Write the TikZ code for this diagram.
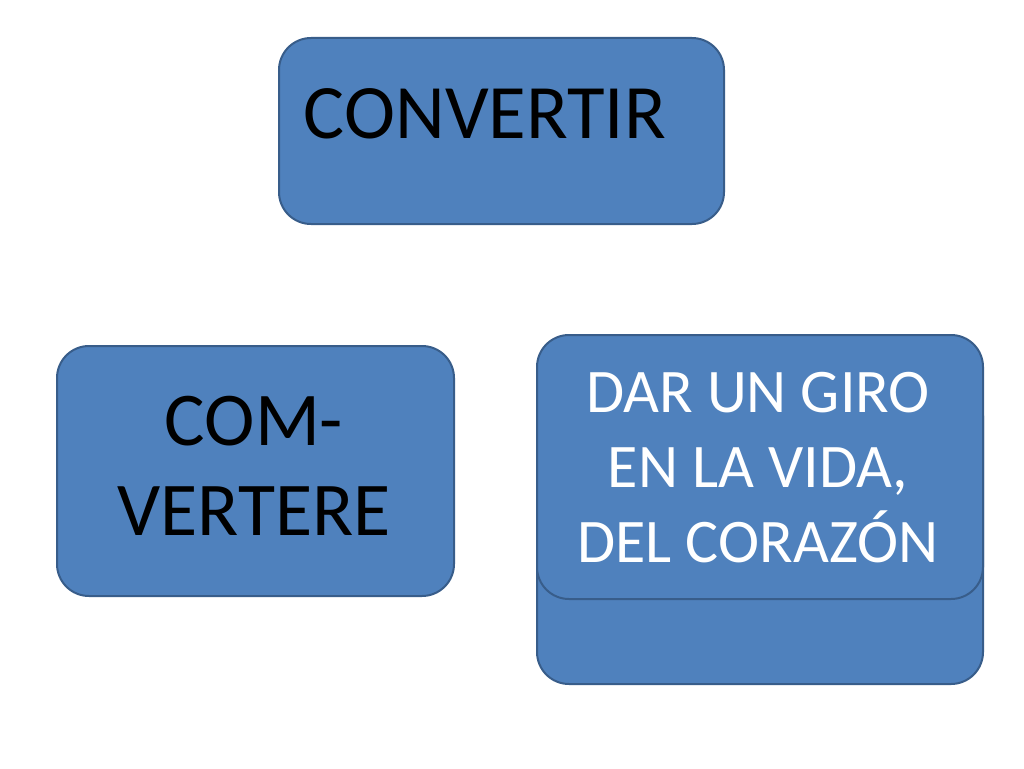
\documentclass[tikz,border=0pt]{standalone}
\usepackage{fontspec}
\setmainfont{Carlito}
\definecolor{boxblue}{HTML}{4F81BD}
\definecolor{boxedge}{HTML}{385D8A}
\tikzset{
  bluebox/.style={draw=boxedge, fill=boxblue, line width=2pt, rounded corners=32pt,
    inner sep=0pt, anchor=north west},
  bigtext/.style={font=\fontsize{77}{90}\selectfont, text=black, inner sep=0pt, anchor=base},
  whitetext/.style={font=\fontsize{62}{75}\selectfont, text=white, inner sep=0pt,
    align=center, anchor=base}
}
\begin{document}
\begin{tikzpicture}[x=1pt,y=-1pt]
    \useasboundingbox[fill=white] (0,0) rectangle (1024,768);
    %% top box
    \node[bluebox, minimum width=445pt, minimum height=186pt] (conv) at (278,37) {};
    \node[bigtext] (convtext) at (485,138) {CONVERTIR};
    %% left box
    \node[bluebox, minimum width=397pt, minimum height=250pt] (comv) at (56,345) {};
    \node[bigtext, font=\fontsize{76}{90}\selectfont, align=center] (comvtext) at (254,535) {COM-\\VERTERE};
    %% right boxes
    \node[bluebox, minimum width=446pt, minimum height=300pt] (back) at (536,383) {};
    \node[bluebox, minimum width=446pt, minimum height=264pt] (giro) at (536,334) {};
    \node[whitetext] (girotext) at (758,562) {DAR UN GIRO\\EN LA VIDA,\\DEL CORAZÓN};
\end{tikzpicture}
\end{document}
